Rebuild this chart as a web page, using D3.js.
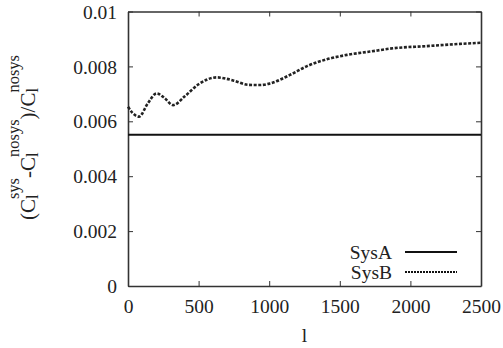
<!DOCTYPE html>
<html><head><meta charset="utf-8">
<script src="https://cdn.jsdelivr.net/npm/d3@7"></script>
<style>
body{margin:0;background:#fff;}
text{font-family:"Liberation Serif","Times New Roman",serif;fill:#222;}
</style></head>
<body><svg id="c" width="503" height="348"></svg>
<script>
const ellB = [0, 30, 78, 140, 203, 260, 319, 400, 500, 628, 750, 850, 935, 1006, 1147, 1268, 1409, 1551, 1714, 1877, 2118, 2351, 2500];
const sysB = [0.00653, 0.00632, 0.00617, 0.00665, 0.00702, 0.00684, 0.00659, 0.00690, 0.00735, 0.00760, 0.00748, 0.00733, 0.00732, 0.00738, 0.00769, 0.00801, 0.00826, 0.00842, 0.00854, 0.00866, 0.00874, 0.00882, 0.00886];
const ellA = [0, 500, 1000, 1500, 2000, 2500];
const sysA = [0.00551, 0.00551, 0.00551, 0.00551, 0.00551, 0.00551];
const xTicks = [0, 500, 1000, 1500, 2000, 2500];
const yTicks = [0, 0.002, 0.004, 0.006, 0.008, 0.01];
const yTickLabels = ["0", "0.002", "0.004", "0.006", "0.008", "0.01"];
const seriesNames = ["SysA", "SysB"];

const svg = d3.select("#c");
const L = 128, R = 481, T = 11.5, B = 286;
const x = d3.scaleLinear().domain([0, 2500]).range([L, R]);
const y = d3.scaleLinear().domain([0, 0.01]).range([B, T]);
const axisColor = "#333";
const fs = 19.5;

const gB = svg.append("g").attr("transform", `translate(0,${B})`)
  .call(d3.axisBottom(x).tickValues(xTicks).tickSizeInner(-5).tickSizeOuter(0).tickFormat(d3.format("d")));
const gT = svg.append("g").attr("transform", `translate(0,${T})`)
  .call(d3.axisTop(x).tickValues(xTicks).tickSizeInner(-5).tickSizeOuter(0).tickFormat(""));
const gL = svg.append("g").attr("transform", `translate(${L},0)`)
  .call(d3.axisLeft(y).tickValues(yTicks).tickSizeInner(-5).tickSizeOuter(0).tickPadding(11)
    .tickFormat((d, i) => yTickLabels[i]));
const gR = svg.append("g").attr("transform", `translate(${R},0)`)
  .call(d3.axisRight(y).tickValues(yTicks).tickSizeInner(-5).tickSizeOuter(0).tickFormat(""));
[gB, gT, gL, gR].forEach(g => {
  g.select(".domain").attr("stroke", axisColor).attr("stroke-width", 1.6);
  g.selectAll(".tick line").attr("stroke", axisColor).attr("stroke-width", 1);
  g.selectAll("text").attr("font-size", fs).attr("fill", "#222");
});
gB.selectAll(".tick text").attr("dy", null).attr("y", 26.5);
gL.selectAll(".tick text").attr("dy", "0.34em");

const line = d3.line().x(d => x(d[0])).y(d => y(d[1])).curve(d3.curveMonotoneX);
svg.append("path").datum(ellA.map((e, i) => [e, sysA[i]]))
  .attr("d", line).attr("fill", "none").attr("stroke", "#111").attr("stroke-width", 2.2);
svg.append("path").datum(ellB.map((e, i) => [e, sysB[i]]))
  .attr("d", line).attr("fill", "none").attr("stroke", "#222").attr("stroke-width", 2.6)
  .attr("stroke-dasharray", "3,1.6");

const legY = [252, 272];
seriesNames.forEach((n, i) => {
  svg.append("text").attr("x", 392).attr("y", legY[i]).attr("dy", "0.34em")
    .attr("text-anchor", "end").attr("font-size", fs).text(n);
  svg.append("line").attr("x1", 405).attr("x2", 457).attr("y1", legY[i]).attr("y2", legY[i])
    .attr("stroke", "#111")
    .attr("stroke-width", i === 0 ? 2.2 : 2)
    .attr("stroke-dasharray", i === 0 ? null : "2,1");
});

svg.append("text").attr("x", (L + R) / 2).attr("y", 342).attr("text-anchor", "middle")
  .attr("font-size", fs).text("l");

const mainFs = 21, supFs = 16.5;
const yt = svg.append("text").attr("transform", `translate(35,137.5) rotate(-90)`)
  .attr("text-anchor", "middle").attr("font-size", mainFs);
const parts = [["(C", "sys"], ["-C", "nosys"], [")/C", "nosys"]];
parts.forEach(([m, s], i) => {
  yt.append("tspan").attr("dy", i === 0 ? 0 : 16).text(m);
  yt.append("tspan").attr("font-size", supFs).attr("dy", 3).text("l");
  yt.append("tspan").attr("font-size", supFs).attr("dx", -4.6).attr("dy", -19).text(s);
});
</script></body></html>
